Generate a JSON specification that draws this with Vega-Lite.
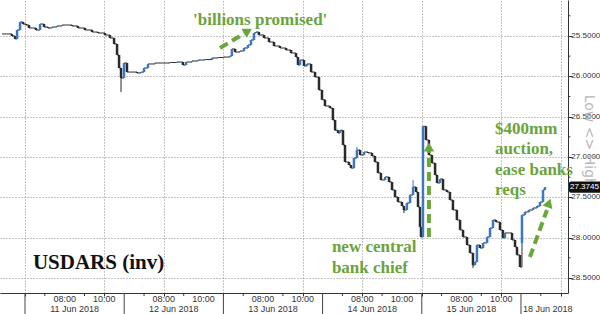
{
 "$schema": "https://vega.github.io/schema/vega-lite/v6.json",
 "usermeta": {"embedOptions": {"actions": false}},
 "width": 568,
 "height": 293,
 "autosize": {"type": "none"},
 "padding": {"left": 0, "top": 0, "right": 32, "bottom": 21},
 "background": "white",
 "config": {"view": {"stroke": null}},
 "datasets": {
  "ohlc": [
   {"x": -1.16, "o": 25.475, "c": 25.475},
   {"x": -0.86, "o": 25.475, "c": 25.475},
   {"x": -0.66, "o": 25.475, "c": 25.5},
   {"x": -0.5, "o": 25.5, "c": 25.537},
   {"x": -0.4, "o": 25.537, "c": 25.426},
   {"x": -0.25, "o": 25.426, "c": 25.327},
   {"x": -0.1, "o": 25.327, "c": 25.352},
   {"x": 0.05, "o": 25.352, "c": 25.364},
   {"x": 0.2, "o": 25.364, "c": 25.401},
   {"x": 0.4, "o": 25.401, "c": 25.401},
   {"x": 0.55, "o": 25.401, "c": 25.426},
   {"x": 0.76, "o": 25.426, "c": 25.352},
   {"x": 0.96, "o": 25.352, "c": 25.389},
   {"x": 1.16, "o": 25.389, "c": 25.401},
   {"x": 1.36, "o": 25.401, "c": 25.389},
   {"x": 1.61, "o": 25.389, "c": 25.376},
   {"x": 1.87, "o": 25.376, "c": 25.364},
   {"x": 2.07, "o": 25.364, "c": 25.364},
   {"x": 2.37, "o": 25.364, "c": 25.376},
   {"x": 2.67, "o": 25.376, "c": 25.401},
   {"x": 3.02, "o": 25.401, "c": 25.426},
   {"x": 3.38, "o": 25.426, "c": 25.451},
   {"x": 3.68, "o": 25.451, "c": 25.463},
   {"x": 4.03, "o": 25.463, "c": 25.488},
   {"x": 4.28, "o": 25.488, "c": 25.525},
   {"x": 4.49, "o": 25.525, "c": 25.599},
   {"x": 4.64, "o": 25.599, "c": 25.736},
   {"x": 4.74, "o": 25.736, "c": 25.897},
   {"x": 4.84, "o": 25.897, "c": 26.021, "w": 26.194},
   {"x": 4.99, "o": 26.021, "c": 25.835},
   {"x": 5.14, "o": 25.835, "c": 25.947},
   {"x": 5.39, "o": 25.947, "c": 25.947},
   {"x": 5.65, "o": 25.947, "c": 25.959},
   {"x": 5.85, "o": 25.959, "c": 25.947},
   {"x": 6.0, "o": 25.947, "c": 25.897},
   {"x": 6.2, "o": 25.897, "c": 25.847},
   {"x": 6.55, "o": 25.847, "c": 25.835},
   {"x": 6.91, "o": 25.835, "c": 25.835},
   {"x": 7.31, "o": 25.835, "c": 25.829},
   {"x": 7.66, "o": 25.829, "c": 25.823},
   {"x": 7.96, "o": 25.823, "c": 25.86},
   {"x": 8.12, "o": 25.86, "c": 25.823},
   {"x": 8.42, "o": 25.823, "c": 25.81},
   {"x": 8.72, "o": 25.81, "c": 25.798},
   {"x": 9.07, "o": 25.798, "c": 25.792},
   {"x": 9.43, "o": 25.792, "c": 25.773},
   {"x": 9.73, "o": 25.773, "c": 25.767},
   {"x": 10.03, "o": 25.767, "c": 25.761},
   {"x": 10.33, "o": 25.761, "c": 25.748},
   {"x": 10.43, "o": 25.748, "c": 25.661},
   {"x": 10.59, "o": 25.661, "c": 25.699},
   {"x": 10.84, "o": 25.699, "c": 25.686},
   {"x": 11.04, "o": 25.686, "c": 25.649},
   {"x": 11.24, "o": 25.649, "c": 25.612},
   {"x": 11.39, "o": 25.612, "c": 25.55},
   {"x": 11.54, "o": 25.55, "c": 25.463},
   {"x": 11.64, "o": 25.463, "c": 25.451},
   {"x": 11.79, "o": 25.451, "c": 25.488},
   {"x": 12.05, "o": 25.488, "c": 25.525},
   {"x": 12.3, "o": 25.525, "c": 25.575},
   {"x": 12.55, "o": 25.575, "c": 25.624},
   {"x": 12.85, "o": 25.624, "c": 25.649},
   {"x": 13.16, "o": 25.649, "c": 25.674},
   {"x": 13.41, "o": 25.674, "c": 25.711},
   {"x": 13.66, "o": 25.711, "c": 25.761},
   {"x": 13.76, "o": 25.761, "c": 25.86},
   {"x": 13.86, "o": 25.86, "c": 25.798},
   {"x": 14.06, "o": 25.798, "c": 25.872},
   {"x": 14.21, "o": 25.872, "c": 25.847},
   {"x": 14.42, "o": 25.847, "c": 25.947},
   {"x": 14.62, "o": 25.947, "c": 26.009},
   {"x": 14.82, "o": 26.009, "c": 26.17},
   {"x": 14.97, "o": 26.17, "c": 26.29},
   {"x": 15.12, "o": 26.29, "c": 26.368},
   {"x": 15.37, "o": 26.368, "c": 26.393},
   {"x": 15.52, "o": 26.393, "c": 26.542},
   {"x": 15.63, "o": 26.542, "c": 26.669},
   {"x": 15.78, "o": 26.669, "c": 26.703},
   {"x": 15.88, "o": 26.703, "c": 26.669},
   {"x": 16.03, "o": 26.669, "c": 26.851},
   {"x": 16.13, "o": 26.851, "c": 27.062},
   {"x": 16.33, "o": 27.062, "c": 27.099},
   {"x": 16.43, "o": 27.099, "c": 27.137},
   {"x": 16.58, "o": 27.137, "c": 27.013},
   {"x": 16.73, "o": 27.013, "c": 26.913, "w": 26.876},
   {"x": 16.89, "o": 26.913, "c": 26.975},
   {"x": 17.09, "o": 26.975, "c": 26.938},
   {"x": 17.29, "o": 26.938, "c": 26.95},
   {"x": 17.49, "o": 26.95, "c": 26.988},
   {"x": 17.64, "o": 26.988, "c": 27.062},
   {"x": 17.79, "o": 27.062, "c": 27.198},
   {"x": 17.94, "o": 27.198, "c": 27.285},
   {"x": 18.15, "o": 27.285, "c": 27.248},
   {"x": 18.35, "o": 27.248, "c": 27.31},
   {"x": 18.5, "o": 27.31, "c": 27.409},
   {"x": 18.65, "o": 27.409, "c": 27.496},
   {"x": 18.8, "o": 27.496, "c": 27.558},
   {"x": 19.0, "o": 27.558, "c": 27.608},
   {"x": 19.1, "o": 27.608, "c": 27.657, "w": 27.694},
   {"x": 19.25, "o": 27.657, "c": 27.57},
   {"x": 19.41, "o": 27.57, "c": 27.471},
   {"x": 19.56, "o": 27.471, "c": 27.372, "w": 27.285},
   {"x": 19.71, "o": 27.372, "c": 27.434},
   {"x": 19.81, "o": 27.434, "c": 27.62},
   {"x": 19.91, "o": 27.62, "c": 27.868},
   {"x": 19.96, "o": 27.868, "c": 27.992},
   {"x": 20.06, "o": 27.992, "c": 26.62},
   {"x": 20.21, "o": 26.62, "c": 26.789},
   {"x": 20.36, "o": 26.789, "c": 26.975},
   {"x": 20.51, "o": 26.975, "c": 27.075},
   {"x": 20.67, "o": 27.075, "c": 27.223},
   {"x": 20.77, "o": 27.223, "c": 27.322},
   {"x": 20.92, "o": 27.322, "c": 27.273},
   {"x": 21.07, "o": 27.273, "c": 27.409},
   {"x": 21.27, "o": 27.409, "c": 27.434},
   {"x": 21.42, "o": 27.434, "c": 27.533},
   {"x": 21.57, "o": 27.533, "c": 27.657},
   {"x": 21.77, "o": 27.657, "c": 27.781},
   {"x": 21.93, "o": 27.781, "c": 27.905},
   {"x": 22.08, "o": 27.905, "c": 27.992},
   {"x": 22.28, "o": 27.992, "c": 28.091},
   {"x": 22.43, "o": 28.091, "c": 28.19},
   {"x": 22.58, "o": 28.19, "c": 28.339, "w": 28.376},
   {"x": 22.68, "o": 28.339, "c": 28.302},
   {"x": 22.78, "o": 28.302, "c": 28.091},
   {"x": 22.93, "o": 28.091, "c": 28.128},
   {"x": 23.09, "o": 28.128, "c": 28.066},
   {"x": 23.29, "o": 28.066, "c": 27.992},
   {"x": 23.44, "o": 27.992, "c": 27.88},
   {"x": 23.59, "o": 27.88, "c": 27.781},
   {"x": 23.74, "o": 27.781, "c": 27.806},
   {"x": 23.94, "o": 27.806, "c": 27.905},
   {"x": 24.09, "o": 27.905, "c": 28.004},
   {"x": 24.19, "o": 28.004, "c": 27.942},
   {"x": 24.4, "o": 27.942, "c": 27.942},
   {"x": 24.55, "o": 27.942, "c": 28.029},
   {"x": 24.7, "o": 28.029, "c": 28.116},
   {"x": 24.8, "o": 28.116, "c": 28.215},
   {"x": 24.95, "o": 28.215, "c": 28.364},
   {"x": 25.05, "o": 28.066, "c": 27.719},
   {"x": 25.2, "o": 27.719, "c": 27.682},
   {"x": 25.4, "o": 27.682, "c": 27.657},
   {"x": 25.61, "o": 27.657, "c": 27.632},
   {"x": 25.81, "o": 27.632, "c": 27.608},
   {"x": 25.96, "o": 27.608, "c": 27.558},
   {"x": 26.11, "o": 27.558, "c": 27.409},
   {"x": 26.21, "o": 27.409, "c": 27.3745}
  ]
 },
 "layer": [
  {
   "data": {"name": "ohlc"},
   "mark": {"type": "line", "interpolate": "step-after", "color": "#2f2f2f", "strokeWidth": 1},
   "encoding": {
    "x": {
     "field": "x", "type": "quantitative",
     "scale": {"domain": [-1.26, 27.37], "nice": false, "zero": false},
     "axis": {
      "title": null,
      "values": [0, 2, 4, 5, 7, 9, 10, 12, 14, 15, 17, 19, 20, 22, 24, 25, 27],
      "domainColor": "#333",
      "tickColor": "#333",
      "tickSize": 3,
      "labels": false,
      "grid": true,
      "gridColor": "#8a8a8a",
      "gridOpacity": 1,
      "gridWidth": 1,
      "gridDash": [1, 2]
     }
    },
    "y": {
     "field": "c", "type": "quantitative",
     "scale": {"domain": [25.054, 28.686], "nice": false, "zero": false, "reverse": true},
     "axis": {
      "title": null,
      "orient": "right",
      "values": [25.5, 26, 26.5, 27, 27.5, 28, 28.5],
      "domainColor": "#333",
      "tickColor": "#333",
      "tickSize": 4,
      "labels": false,
      "grid": true,
      "gridColor": "#8a8a8a",
      "gridOpacity": 1,
      "gridWidth": 1,
      "gridDash": [1, 2]
     }
    }
   }
  },
  {
   "data": {"values": [{"v": 25.25}, {"v": 25.75}, {"v": 26.25}, {"v": 26.75}, {"v": 27.25}, {"v": 27.75}, {"v": 28.25}]},
   "mark": {"type": "rule", "color": "#333", "strokeWidth": 1},
   "encoding": {
    "y": {"field": "v", "type": "quantitative"},
    "x": {"datum": 27.37, "type": "quantitative"},
    "x2": {"datum": 27.49}
   }
  },
  {
   "data": {"values": [{"h": 1}, {"h": 3}, {"h": 6}, {"h": 8}, {"h": 11}, {"h": 13}, {"h": 16}, {"h": 18}, {"h": 21}, {"h": 23}, {"h": 26}]},
   "mark": {"type": "rule", "color": "#333", "strokeWidth": 1},
   "encoding": {
    "x": {"field": "h", "type": "quantitative"},
    "y": {"datum": 28.686, "type": "quantitative"},
    "y2": {"datum": 28.723}
   }
  },
  {
   "data": {"name": "ohlc"},
   "transform": [{"filter": "isValid(datum.w)"}],
   "mark": {"type": "rule", "strokeWidth": 1},
   "encoding": {
    "x": {"field": "x", "type": "quantitative"},
    "y": {"field": "c", "type": "quantitative"},
    "y2": {"field": "w"},
    "color": {"condition": {"test": "datum.c < datum.o", "value": "#3a78c3"}, "value": "#2a2a2a"}
   }
  },
  {
   "data": {"name": "ohlc"},
   "mark": {"type": "rule", "strokeWidth": 2.5},
   "encoding": {
    "x": {"field": "x", "type": "quantitative"},
    "y": {"field": "o", "type": "quantitative"},
    "y2": {"field": "c"},
    "color": {"condition": {"test": "datum.c < datum.o", "value": "#3a78c3"}, "value": "#2a2a2a"}
   }
  },
  {
   "data": {"values": [{"x": 0}, {"x": 5}, {"x": 10}, {"x": 15}, {"x": 20}, {"x": 25}]},
   "mark": {"type": "rule", "color": "#444", "strokeWidth": 1},
   "encoding": {
    "x": {"field": "x", "type": "quantitative"},
    "y": {"datum": 28.686, "type": "quantitative"},
    "y2": {"datum": 28.96}
   }
  },
  {
   "data": {"values": [
    {"x": 2, "t": "08:00"}, {"x": 4, "t": "10:00"},
    {"x": 7, "t": "08:00"}, {"x": 9, "t": "10:00"},
    {"x": 12, "t": "08:00"}, {"x": 14, "t": "10:00"},
    {"x": 17, "t": "08:00"}, {"x": 19, "t": "10:00"},
    {"x": 22, "t": "08:00"}, {"x": 24, "t": "10:00"}
   ]},
   "mark": {"type": "text", "align": "center", "baseline": "middle", "font": "Liberation Sans", "fontSize": 9, "color": "#333"},
   "encoding": {
    "x": {"field": "x", "type": "quantitative"},
    "y": {"datum": 28.762, "type": "quantitative"},
    "text": {"field": "t", "type": "nominal"}
   }
  },
  {
   "data": {"values": [
    {"x": 2.5, "d": "11 Jun 2018"},
    {"x": 7.5, "d": "12 Jun 2018"},
    {"x": 12.5, "d": "13 Jun 2018"},
    {"x": 17.5, "d": "14 Jun 2018"},
    {"x": 22.5, "d": "15 Jun 2018"},
    {"x": 26.35, "d": "18 Jun 2018"}
   ]},
   "mark": {"type": "text", "align": "center", "baseline": "middle", "font": "Liberation Sans", "fontSize": 9, "color": "#333"},
   "encoding": {
    "x": {"field": "x", "type": "quantitative"},
    "y": {"datum": 28.89, "type": "quantitative"},
    "text": {"field": "d", "type": "nominal"}
   }
  },
  {
   "data": {"values": [
    {"v": 25.5, "t": "25.5000"}, {"v": 26.0, "t": "26.0000"}, {"v": 26.5, "t": "26.5000"},
    {"v": 27.0, "t": "27.0000"}, {"v": 27.5, "t": "27.5000"}, {"v": 28.0, "t": "28.0000"},
    {"v": 28.5, "t": "28.5000"}
   ]},
   "mark": {"type": "text", "align": "left", "baseline": "middle", "font": "Liberation Sans", "fontSize": 8, "color": "#333"},
   "encoding": {
    "x": {"datum": 27.54, "type": "quantitative"},
    "y": {"field": "v", "type": "quantitative"},
    "text": {"field": "t", "type": "nominal"}
   }
  },
  {
   "data": {"values": [{"x": 9.83, "y": 25.649, "x2": 11.09, "y2": 25.463}, {"x": 20.36, "y": 27.992, "x2": 20.36, "y2": 26.93}, {"x": 25.45, "y": 28.24, "x2": 26.31, "y2": 27.657}]},
   "mark": {"type": "rule", "color": "#6aa63a", "strokeWidth": 4, "strokeDash": [9, 5]},
   "encoding": {
    "x": {"field": "x", "type": "quantitative"},
    "y": {"field": "y", "type": "quantitative"},
    "x2": {"field": "x2"},
    "y2": {"field": "y2"}
   }
  },
  {
   "data": {"values": [{"x": 11.24, "y": 25.438}]},
   "mark": {"type": "point", "shape": "triangle-up", "filled": true, "color": "#6aa63a", "opacity": 1, "size": 110, "angle": 59},
   "encoding": {
    "x": {"field": "x", "type": "quantitative"},
    "y": {"field": "y", "type": "quantitative"}
   }
  },
  {
   "data": {"values": [{"x": 20.36, "y": 26.876}]},
   "mark": {"type": "point", "shape": "triangle-up", "filled": true, "color": "#6aa63a", "opacity": 1, "size": 110, "angle": 0},
   "encoding": {
    "x": {"field": "x", "type": "quantitative"},
    "y": {"field": "y", "type": "quantitative"}
   }
  },
  {
   "data": {"values": [{"x": 26.41, "y": 27.57}]},
   "mark": {"type": "point", "shape": "triangle-up", "filled": true, "color": "#6aa63a", "opacity": 1, "size": 110, "angle": 20},
   "encoding": {
    "x": {"field": "x", "type": "quantitative"},
    "y": {"field": "y", "type": "quantitative"}
   }
  },
  {
   "data": {"values": [
    {"x": 8.47, "y": 25.364, "t": "'billions promised'"},
    {"x": 23.69, "y": 26.715, "t": "$400mm\nauction,\nease banks\nreqs"},
    {"x": 15.47, "y": 28.178, "t": "new central\nbank chief"}
   ]},
   "mark": {"type": "text", "align": "left", "baseline": "alphabetic", "font": "Liberation Serif", "fontWeight": "bold", "fontSize": 17, "color": "#6ba33c", "lineBreak": "\n", "lineHeight": 20.5},
   "encoding": {
    "x": {"field": "x", "type": "quantitative"},
    "y": {"field": "y", "type": "quantitative"},
    "text": {"field": "t", "type": "nominal"}
   }
  },
  {
   "data": {"values": [{"x": 0.4, "y": 28.389, "t": "USDARS (inv)"}]},
   "mark": {"type": "text", "align": "left", "baseline": "alphabetic", "font": "Liberation Serif", "fontWeight": "bold", "fontSize": 21, "color": "#111"},
   "encoding": {
    "x": {"field": "x", "type": "quantitative"},
    "y": {"field": "y", "type": "quantitative"},
    "text": {"field": "t", "type": "nominal"}
   }
  },
  {
   "data": {"values": [{"x": 28.43, "y": 26.8, "t": "Low <> High"}]},
   "mark": {"type": "text", "align": "center", "baseline": "middle", "angle": 90, "font": "DejaVu Sans", "fontSize": 14, "color": "#b8b8b8"},
   "encoding": {
    "x": {"field": "x", "type": "quantitative"},
    "y": {"field": "y", "type": "quantitative"},
    "text": {"field": "t", "type": "nominal"}
   }
  },
  {
   "data": {"values": [{"x": 27.42, "x2": 30.5, "y": 27.305, "y2": 27.444}]},
   "mark": {"type": "rect", "color": "#111", "cornerRadius": 2},
   "encoding": {
    "x": {"field": "x", "type": "quantitative"},
    "y": {"field": "y", "type": "quantitative"},
    "x2": {"field": "x2"},
    "y2": {"field": "y2"}
   }
  },
  {
   "data": {"values": [{"x": 27.47, "y": 27.3745, "t": "27.3745"}]},
   "mark": {"type": "text", "align": "left", "baseline": "middle", "font": "Liberation Sans", "fontSize": 8, "color": "white"},
   "encoding": {
    "x": {"field": "x", "type": "quantitative"},
    "y": {"field": "y", "type": "quantitative"},
    "text": {"field": "t", "type": "nominal"}
   }
  }
 ]
}
